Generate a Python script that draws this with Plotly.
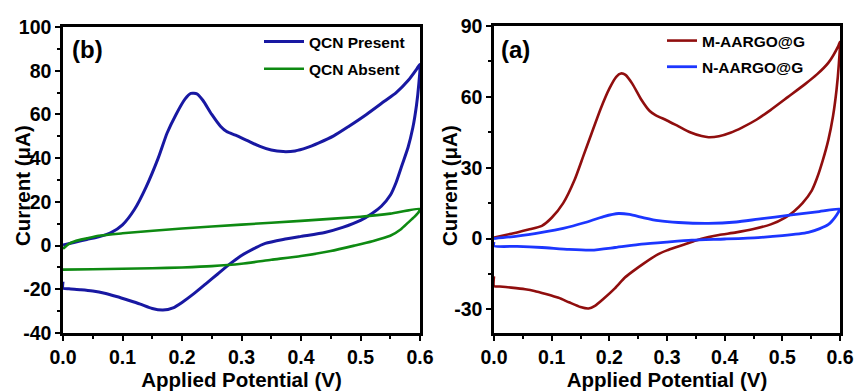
import plotly.graph_objects as go

# ---- Panel (b): QCN present / absent cyclic voltammograms ----
qcn_present_v = [0.000, 0.02, 0.04, 0.06, 0.08, 0.10, 0.12, 0.14, 0.16, 0.175, 0.19, 0.205, 0.215, 0.225,
                 0.235, 0.25, 0.265, 0.275, 0.29, 0.31, 0.33, 0.35, 0.37, 0.39, 0.41, 0.43, 0.455, 0.48,
                 0.51, 0.54, 0.56, 0.58, 0.595, 0.600,
                 0.598, 0.594, 0.588, 0.58, 0.57, 0.56, 0.55, 0.535, 0.52, 0.50, 0.47, 0.44, 0.40, 0.37,
                 0.34, 0.32, 0.30, 0.28, 0.26, 0.24, 0.22, 0.20, 0.185, 0.168, 0.15, 0.13, 0.11, 0.09,
                 0.07, 0.05, 0.03, 0.01, 0.0, 0.0]
qcn_present_i = [0.3, 1.5, 2.8, 4.0, 5.8, 9.5, 16.5, 27, 40, 51.5, 60, 67, 69.6, 69.4,
                 66.5, 60, 54.5, 52.2, 50.5, 48, 45.5, 43.7, 43.0, 43.3, 44.8, 47, 50.2, 54.5,
                 60, 66, 70, 75.5, 81, 83,
                 74, 64, 54, 45, 37, 29, 23, 18, 14.8, 11.5, 8.3, 6.0, 4.2, 2.8,
                 1.0, -1.5, -4.5, -8.5, -13, -17.5, -22, -26, -28.5, -29.5, -28.8, -26.8, -25, -23.3,
                 -21.8, -20.8, -20.2, -19.8, -19.5, -16.5]

qcn_absent_v = [0.0, 0.01, 0.02, 0.04, 0.06, 0.1, 0.2, 0.3, 0.4, 0.5, 0.55, 0.6,
                0.597, 0.59, 0.58, 0.568, 0.55, 0.52, 0.49, 0.45, 0.40, 0.35, 0.30, 0.25, 0.20,
                0.15, 0.10, 0.05, 0.0]
qcn_absent_i = [-1.5, 0.8, 2.0, 3.3, 4.5, 5.6, 7.8, 9.6, 11.3, 13.2, 14.6, 16.8,
                15, 13, 10.5, 7.5, 4.5, 2.0, 0.0, -2.5, -4.8, -6.5, -8.3, -9.4, -10.0,
                -10.4, -10.6, -10.8, -11.0]

# ---- Panel (a): M-AARGO@G / N-AARGO@G cyclic voltammograms ----
m_aargo_v = [0.0, 0.02, 0.04, 0.06, 0.083, 0.10, 0.12, 0.14, 0.155, 0.169, 0.185, 0.20, 0.212, 0.22,
             0.228, 0.24, 0.255, 0.27, 0.28, 0.30, 0.32, 0.34, 0.36, 0.372, 0.39, 0.41, 0.43, 0.455,
             0.48, 0.51, 0.54, 0.56, 0.58, 0.597, 0.60,
             0.598, 0.594, 0.588, 0.58, 0.57, 0.56, 0.551, 0.535, 0.52, 0.505, 0.48, 0.45, 0.42, 0.39,
             0.372, 0.35, 0.33, 0.314, 0.30, 0.285, 0.26, 0.24, 0.227, 0.21, 0.19, 0.175, 0.164,
             0.15, 0.13, 0.112, 0.09, 0.07, 0.054, 0.03, 0.01, 0.0, 0.0]
m_aargo_i = [0.4, 1.5, 2.6, 3.8, 5.4, 8.8, 15, 25, 35, 44.4, 55, 63.5, 68.5, 69.9,
             69.3, 65.5, 59, 54, 52.3, 50, 47.5, 45, 43.4, 42.9, 43.3, 44.8, 47, 50.3,
             54.5, 60, 65.5, 69.5, 74.5, 81.5, 83.3,
             74, 63, 52, 42, 33, 25.5, 20.3, 15, 11.5, 8.9, 6.0, 4.0, 2.6, 1.5,
             0.6, -0.8, -2.5, -3.8, -5, -6.6, -10.5, -14, -16.5, -21, -25.5, -28.5, -29.6,
             -29, -27, -25.1, -23.5, -22.2, -21.5, -20.8, -20.3, -20.1, -16]

n_aargo_v = [0.0, 0.04, 0.083, 0.12, 0.158, 0.19, 0.216, 0.235, 0.26, 0.285, 0.32, 0.372, 0.42,
             0.458, 0.516, 0.56, 0.6,
             0.598, 0.591, 0.58, 0.565, 0.545, 0.50, 0.458, 0.40, 0.343, 0.30, 0.256, 0.21,
             0.169, 0.13, 0.083, 0.04, 0.0, 0.0]
n_aargo_i = [0.0, 1.0, 2.6, 4.3, 6.8, 9.3, 10.6, 10.2, 8.8, 7.6, 6.8, 6.4, 7.0,
             8.2, 10.0, 11.3, 12.5,
             11.5, 8.9, 6.0, 4.2, 2.6, 1.2, 0.4, -0.2, -0.7, -1.5, -2.4, -3.8,
             -4.9, -4.6, -3.8, -3.3, -3.1, -1.5]

# ---- Tick values and labels (plain hyphen for negatives) ----
x_ticks = [0.0, 0.1, 0.2, 0.3, 0.4, 0.5, 0.6]
x_ticklabels = ["0.0", "0.1", "0.2", "0.3", "0.4", "0.5", "0.6"]
yb_ticks = [-40, -20, 0, 20, 40, 60, 80, 100]
yb_ticklabels = ["-40", "-20", "0", "20", "40", "60", "80", "100"]
ya_ticks = [-30, 0, 30, 60, 90]
ya_ticklabels = ["-30", "0", "30", "60", "90"]

FONT = "Arial, Liberation Sans, sans-serif"
W, H = 855, 392


def px_x(p):
    return p / W


def px_y(p):
    return 1 - p / H


fig = go.Figure()

fig.add_trace(go.Scatter(x=qcn_present_v, y=qcn_present_i, mode="lines", name="QCN Present",
                         line=dict(color="#1818a2", width=3, shape="spline", smoothing=0.6),
                         xaxis="x", yaxis="y", legend="legend", legendgroup="p"))
fig.add_trace(go.Scatter(x=qcn_absent_v, y=qcn_absent_i, mode="lines", name="QCN Absent",
                         line=dict(color="#0e8a12", width=2.6, shape="spline", smoothing=0.6),
                         xaxis="x", yaxis="y", legend="legend", legendgroup="a"))
fig.add_trace(go.Scatter(x=m_aargo_v, y=m_aargo_i, mode="lines", name="M-AARGO@G",
                         line=dict(color="#900e0e", width=2.6, shape="spline", smoothing=0.6),
                         xaxis="x2", yaxis="y2", legend="legend2", legendgroup="m"))
fig.add_trace(go.Scatter(x=n_aargo_v, y=n_aargo_i, mode="lines", name="N-AARGO@G",
                         line=dict(color="#1c36ff", width=2.8, shape="spline", smoothing=0.6),
                         xaxis="x2", yaxis="y2", legend="legend2", legendgroup="n"))

tick_font = dict(family=FONT, size=19.5, color="black", weight="bold")
title_font = dict(family=FONT, size=20.5, color="black", weight="bold")
legend_font = dict(family=FONT, size=15.5, color="black", weight="bold")

common_axis = dict(showline=True, linewidth=2.5, linecolor="black", mirror=True,
                   ticks="outside", ticklen=5, tickwidth=2, tickcolor="black",
                   showgrid=False, zeroline=False, tickfont=tick_font, automargin=False)

xaxis_common = dict(common_axis, range=[0, 0.6], tickmode="array",
                    tickvals=x_ticks, ticktext=x_ticklabels,
                    minor=dict(dtick=0.05, tick0=0, ticks="outside", ticklen=3, tickwidth=2,
                               tickcolor="black"),
                    title=dict(text="Applied Potential (V)", font=title_font, standoff=5))

fig.update_layout(
    width=W, height=H,
    margin=dict(l=0, r=0, t=0, b=0, autoexpand=False),
    paper_bgcolor="white", plot_bgcolor="white",
    xaxis=dict(xaxis_common, domain=[px_x(63), px_x(420)], anchor="y"),
    yaxis=dict(common_axis, domain=[px_y(333), px_y(27)], anchor="x",
               range=[-40, 100], tickmode="array", tickvals=yb_ticks, ticktext=yb_ticklabels,
               minor=dict(dtick=10, tick0=0, ticks="outside", ticklen=3, tickwidth=2,
                          tickcolor="black")),
    xaxis2=dict(xaxis_common, domain=[px_x(494), px_x(840)], anchor="y2"),
    yaxis2=dict(common_axis, domain=[px_y(333), px_y(26)], anchor="x2",
                range=[-40, 90], tickmode="array", tickvals=ya_ticks, ticktext=ya_ticklabels,
                minor=dict(dtick=15, tick0=0, ticks="outside", ticklen=3, tickwidth=2,
                           tickcolor="black")),
    legend=dict(x=px_x(259), y=px_y(25), xanchor="left", yanchor="top",
                bgcolor="rgba(0,0,0,0)", borderwidth=0, tracegroupgap=4,
                traceorder="grouped", itemwidth=40, font=legend_font),
    legend2=dict(x=px_x(662), y=px_y(24), xanchor="left", yanchor="top",
                 bgcolor="rgba(0,0,0,0)", borderwidth=0, tracegroupgap=3,
                 traceorder="grouped", font=legend_font),
    showlegend=True,
    annotations=[
        dict(text="(b)", x=px_x(70), y=px_y(50), xref="paper", yref="paper",
             xanchor="left", yanchor="middle", showarrow=False,
             font=dict(family=FONT, size=24, color="black", weight="bold")),
        dict(text="(a)", x=px_x(499), y=px_y(50), xref="paper", yref="paper",
             xanchor="left", yanchor="middle", showarrow=False,
             font=dict(family=FONT, size=24, color="black", weight="bold")),
        dict(text="Current (μA)", x=px_x(22), y=px_y(186), xref="paper", yref="paper",
             xanchor="center", yanchor="middle", textangle=-90, showarrow=False,
             font=title_font),
        dict(text="Current (μA)", x=px_x(449), y=px_y(186), xref="paper", yref="paper",
             xanchor="center", yanchor="middle", textangle=-90, showarrow=False,
             font=title_font),
    ],
)

fig.write_html("out.html")
